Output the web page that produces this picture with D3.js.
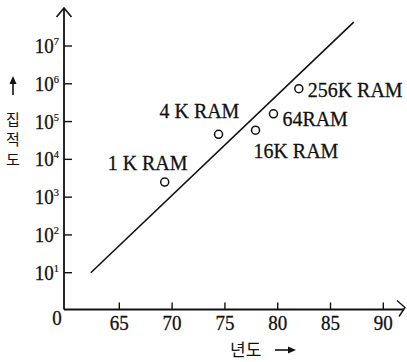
<!DOCTYPE html>
<html>
<head>
<meta charset="utf-8">
<script src="https://cdn.jsdelivr.net/npm/d3@7"></script>
<style>
  html, body { margin: 0; padding: 0; background: #fff; }
  svg { display: block; }
  .serif { font-family: "Liberation Serif", "DejaVu Serif", serif; fill: #111; stroke: #111; stroke-width: 0.3; }
  .kr { font-family: "Noto Sans CJK KR", sans-serif; fill: #111; }
</style>
</head>
<body>
<svg id="chart"></svg>
<script>
// chip types and the year / density
const chips = ['1 K RAM', '4 K RAM', '16K RAM', '64RAM', '256K RAM'];
const years = [69.3, 74.4, 77.9, 79.6, 82.0];
const density = [2.5e3, 4.6e4, 5.9e4, 1.6e5, 7.4e5];

// trend line end points
const trendYears = [62.3, 87.2];
const trendDensity = [10, 4.3e7];

const xTicks = [65, 70, 75, 80, 85, 90];
const yExponents = [1, 2, 3, 4, 5, 6, 7];

const width = 407, height = 362;
const svg = d3.select('#chart').attr('width', width).attr('height', height);

const x = d3.scaleLinear().domain([60, 90]).range([66.5, 383.3]);
const y = d3.scaleLog().domain([1, 1e7]).range([310.5, 46]);

const axisX = 64, axisY = 309.5;

// axes with arrow heads
svg.append('line')
  .attr('x1', axisX).attr('y1', axisY).attr('x2', axisX).attr('y2', 9)
  .attr('stroke', '#111').attr('stroke-width', 1.8);
svg.append('path')
  .attr('d', `M${axisX - 7.5},17 L${axisX},8 L${axisX + 7.5},17`)
  .attr('fill', 'none').attr('stroke', '#111').attr('stroke-width', 1.6);

svg.append('line')
  .attr('x1', axisX).attr('y1', axisY).attr('x2', 404).attr('y2', axisY)
  .attr('stroke', '#111').attr('stroke-width', 1.8);
svg.append('path')
  .attr('d', `M397,${axisY - 9} L405,${axisY - 2} L399,${axisY + 7}`)
  .attr('fill', 'none').attr('stroke', '#111').attr('stroke-width', 1.4);

// x ticks (pointing up) and labels
const xt = svg.append('g');
xTicks.forEach((t) => {
  xt.append('line')
    .attr('x1', x(t)).attr('x2', x(t)).attr('y1', axisY).attr('y2', axisY - 7)
    .attr('stroke', '#111').attr('stroke-width', 1.4);
  xt.append('text').attr('class', 'serif')
    .attr('transform', `translate(${x(t)},${axisY + 20}) scale(0.95,1)`)
    .attr('text-anchor', 'middle').attr('font-size', 20)
    .text(t);
});
svg.append('text').attr('class', 'serif')
  .attr('transform', `translate(57,${axisY + 15}) scale(0.95,1)`)
  .attr('text-anchor', 'middle').attr('font-size', 20).text('0');

// y ticks (pointing right) and 10^n labels
const yt = svg.append('g');
yExponents.forEach((e) => {
  const v = Math.pow(10, e);
  yt.append('line')
    .attr('x1', axisX).attr('x2', axisX + 8).attr('y1', y(v)).attr('y2', y(v))
    .attr('stroke', '#111').attr('stroke-width', 1.4);
  const txt = yt.append('text').attr('class', 'serif')
    .attr('transform', `translate(59,${y(v) + 7}) scale(0.95,1)`)
    .attr('text-anchor', 'end').attr('font-size', 20);
  txt.append('tspan').text('10');
  txt.append('tspan').attr('font-size', 11).attr('dy', -8).attr('stroke-width', 0.2).text(e);
});

// trend line
svg.append('path')
  .datum(d3.zip(trendYears, trendDensity))
  .attr('d', d3.line().x((d) => x(d[0])).y((d) => y(d[1])))
  .attr('fill', 'none').attr('stroke', '#111').attr('stroke-width', 1.6);

// points
const pts = d3.zip(chips, years, density);
svg.append('g').selectAll('circle').data(pts).enter().append('circle')
  .attr('cx', (d) => x(d[1])).attr('cy', (d) => y(d[2]))
  .attr('r', 4).attr('fill', '#fff').attr('stroke', '#111').attr('stroke-width', 1.5);

// label offsets from each point
const labelDx = [-57, -59, -2, 9, 9];
const labelDy = [-12, -16, 28, 12, 8];
svg.append('g').selectAll('text').data(pts).enter().append('text')
  .attr('class', 'serif')
  .attr('transform', (d, i) => `translate(${x(d[1]) + labelDx[i]},${y(d[2]) + labelDy[i]}) scale(0.95,1)`)
  .attr('font-size', 21)
  .text((d) => d[0]);

// y axis title: up arrow + vertical Korean text
svg.append('line').attr('x1', 13).attr('x2', 13).attr('y1', 95).attr('y2', 80)
  .attr('stroke', '#111').attr('stroke-width', 1.6);
svg.append('path').attr('d', 'M9.5,84 L13,76 L16.5,84 Z').attr('fill', '#111');
['집', '적', '도'].forEach((c, i) => {
  svg.append('text').attr('class', 'kr')
    .attr('x', 13).attr('y', 125 + i * 20)
    .attr('text-anchor', 'middle').attr('font-size', 15)
    .text(c);
});

// x axis title
svg.append('text').attr('class', 'kr')
  .attr('x', 230).attr('y', 356).attr('font-size', 17).text('년도');
svg.append('line').attr('x1', 275).attr('x2', 290).attr('y1', 350).attr('y2', 350)
  .attr('stroke', '#111').attr('stroke-width', 1.6);
svg.append('path').attr('d', 'M288,346.5 L296,350 L288,353.5 Z').attr('fill', '#111');
</script>
</body>
</html>
